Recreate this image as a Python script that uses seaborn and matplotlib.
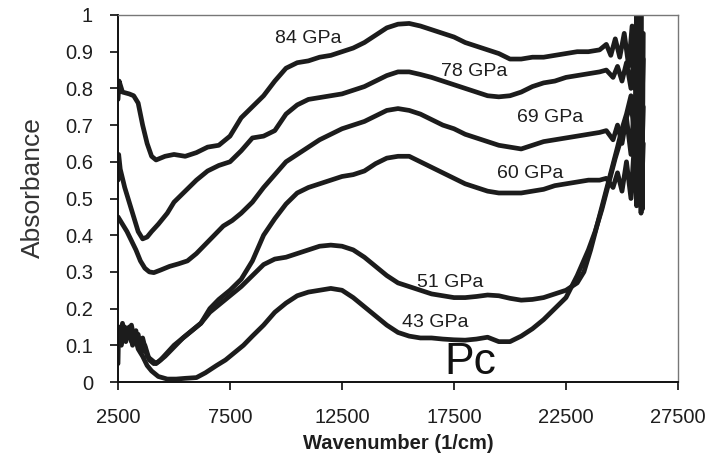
import matplotlib
matplotlib.use("Agg")
import matplotlib.pyplot as plt
import seaborn as sns
import pandas as pd

# ---------------- data ----------------
x84 = [2500, 2550, 2700, 3000, 3200, 3400, 3600, 3800, 4000, 4200, 4600, 5000, 5500, 6000, 6500,
       7000, 7500, 8000, 8500, 9000, 9500, 10000, 10500, 11000, 11500, 12000, 12500, 13000, 13500,
       14000, 14500, 15000, 15500, 16000, 16500, 17000, 17500, 18000, 18500, 19000, 19500, 20000,
       20500, 21000, 21500, 22000, 22500, 23000, 23500, 24000, 24300, 24500, 24700, 24900, 25100,
       25300, 25450, 25550, 25650, 25700, 25750, 25800, 25850, 25900, 25950]
y84 = [0.77, 0.82, 0.79, 0.785, 0.78, 0.76, 0.70, 0.65, 0.615, 0.605, 0.615, 0.62, 0.615, 0.625, 0.64,
       0.645, 0.67, 0.72, 0.75, 0.78, 0.82, 0.855, 0.87, 0.875, 0.885, 0.89, 0.90, 0.91, 0.925,
       0.945, 0.965, 0.975, 0.977, 0.97, 0.96, 0.95, 0.94, 0.925, 0.915, 0.905, 0.895, 0.88,
       0.88, 0.885, 0.885, 0.89, 0.895, 0.90, 0.90, 0.905, 0.92, 0.89, 0.935, 0.885, 0.95,
       0.86, 0.97, 0.80, 1.0, 0.70, 1.0, 0.55, 1.0, 0.47, 0.95]

x78 = [2500, 2530, 2600, 2800, 3000, 3200, 3400, 3600, 3800, 4000, 4300, 4700, 5000, 5500, 6000,
       6500, 7000, 7500, 8000, 8500, 9000, 9500, 10000, 10500, 11000, 11500, 12000, 12500, 13000,
       13500, 14000, 14500, 15000, 15500, 16000, 16500, 17000, 17500, 18000, 18500, 19000, 19500,
       20000, 20500, 21000, 21500, 22000, 22500, 23000, 23500, 24000, 24300, 24600, 24800, 25000,
       25200, 25400, 25550, 25650, 25750, 25850, 25950]
y78 = [0.55, 0.62, 0.58, 0.53, 0.49, 0.45, 0.41, 0.39, 0.395, 0.41, 0.43, 0.46, 0.49, 0.52, 0.55,
       0.575, 0.59, 0.60, 0.63, 0.665, 0.67, 0.685, 0.73, 0.755, 0.77, 0.775, 0.78, 0.785, 0.795,
       0.805, 0.82, 0.835, 0.845, 0.845, 0.838, 0.83, 0.82, 0.81, 0.80, 0.79, 0.78, 0.777,
       0.78, 0.79, 0.805, 0.815, 0.82, 0.83, 0.835, 0.84, 0.845, 0.85, 0.83, 0.86, 0.82,
       0.87, 0.80, 0.90, 0.75, 0.92, 0.65, 0.88]

x69 = [2500, 2700, 2900, 3100, 3300, 3500, 3700, 3900, 4100, 4400, 4800, 5200, 5600, 6000, 6400,
       6800, 7200, 7600, 8000, 8500, 9000, 9500, 10000, 10500, 11000, 11500, 12000, 12500, 13000,
       13500, 14000, 14500, 15000, 15500, 16000, 16500, 17000, 17500, 18000, 18500, 19000, 19500,
       20000, 20500, 21000, 21500, 22000, 22500, 23000, 23500, 24000, 24300, 24600, 24800, 25000,
       25200, 25400, 25550, 25650, 25750, 25850, 25950]
y69 = [0.45, 0.43, 0.41, 0.385, 0.36, 0.33, 0.31, 0.30, 0.298, 0.305, 0.315, 0.322, 0.33, 0.35, 0.375,
       0.40, 0.425, 0.44, 0.46, 0.49, 0.53, 0.565, 0.60, 0.62, 0.64, 0.66, 0.675, 0.69, 0.70,
       0.71, 0.725, 0.74, 0.745, 0.74, 0.73, 0.715, 0.70, 0.69, 0.675, 0.665, 0.655, 0.645,
       0.64, 0.635, 0.645, 0.655, 0.66, 0.665, 0.67, 0.675, 0.68, 0.685, 0.66, 0.70, 0.65,
       0.72, 0.62, 0.76, 0.58, 0.80, 0.52, 0.75]

x60 = [2500, 2530, 2600, 2700, 2850, 3000, 3150, 3300, 3450, 3600, 3800, 4000, 4200, 4400, 4700,
       5000, 5400, 5800, 6200, 6600, 7000, 7500, 8000, 8500, 9000, 9500, 10000, 10500, 11000,
       11500, 12000, 12500, 13000, 13500, 14000, 14500, 15000, 15500, 16000, 16500, 17000, 17500,
       18000, 18500, 19000, 19500, 20000, 20500, 21000, 21500, 22000, 22500, 23000, 23500, 24000,
       24300, 24600, 24800, 25000, 25200, 25400, 25550, 25650, 25750, 25850, 25950]
y60 = [0.05, 0.15, 0.12, 0.16, 0.11, 0.15, 0.10, 0.14, 0.09, 0.12, 0.07, 0.06, 0.05, 0.06, 0.08,
       0.10, 0.12, 0.14, 0.16, 0.20, 0.225, 0.25, 0.28, 0.33, 0.40, 0.445, 0.485, 0.515, 0.53,
       0.54, 0.55, 0.56, 0.565, 0.575, 0.595, 0.61, 0.615, 0.615, 0.60, 0.585, 0.57, 0.555,
       0.54, 0.53, 0.52, 0.515, 0.515, 0.515, 0.52, 0.525, 0.535, 0.54, 0.545, 0.55, 0.55,
       0.555, 0.53, 0.57, 0.52, 0.60, 0.50, 0.65, 0.48, 0.70, 0.46, 0.65]

x51 = [2500, 2550, 2650, 2800, 2950, 3100, 3250, 3400, 3550, 3700, 3900, 4100, 4300, 4600, 5000,
       5400, 5800, 6200, 6600, 7000, 7500, 8000, 8500, 9000, 9500, 10000, 10500, 11000, 11500,
       12000, 12500, 13000, 13500, 14000, 14500, 15000, 15500, 16000, 16500, 17000, 17500, 18000,
       18500, 19000, 19500, 20000, 20500, 21000, 21500, 22000, 22500, 23000, 23300, 23600, 23900,
       24200, 24500, 24800, 25000, 25200, 25400, 25550, 25650, 25750, 25850]
y51 = [0.10, 0.14, 0.10, 0.15, 0.12, 0.155, 0.11, 0.13, 0.08, 0.10, 0.06, 0.05, 0.055, 0.07, 0.095,
       0.12, 0.14, 0.16, 0.19, 0.21, 0.235, 0.26, 0.29, 0.32, 0.335, 0.34, 0.35, 0.36, 0.37,
       0.373, 0.37, 0.36, 0.34, 0.315, 0.29, 0.27, 0.26, 0.25, 0.24, 0.235, 0.23, 0.23,
       0.233, 0.237, 0.235, 0.228, 0.223, 0.225, 0.23, 0.24, 0.25, 0.27, 0.30, 0.36, 0.43,
       0.50, 0.57, 0.64, 0.69, 0.73, 0.78, 0.70, 0.85, 0.65, 0.80]

x43 = [2500, 2550, 2650, 2800, 2950, 3100, 3250, 3400, 3600, 3800, 4000, 4300, 4700, 5100, 5500,
       6000, 6400, 6900, 7300, 7700, 8100, 8500, 9000, 9500, 10000, 10500, 11000, 11500, 12000,
       12500, 13000, 13500, 14000, 14500, 15000, 15500, 16000, 16500, 17000, 17500, 18000, 18500,
       19000, 19500, 20000, 20500, 21000, 21500, 22000, 22500, 23000, 23500, 23800, 24100, 24400,
       24700, 25000, 25200, 25400, 25550, 25650, 25750, 25850]
y43 = [0.14, 0.10, 0.145, 0.12, 0.14, 0.11, 0.125, 0.09, 0.07, 0.045, 0.03, 0.015, 0.008, 0.008, 0.01,
       0.012, 0.025, 0.045, 0.06, 0.08, 0.10, 0.125, 0.155, 0.19, 0.215, 0.235, 0.245, 0.25, 0.255,
       0.25, 0.23, 0.205, 0.18, 0.155, 0.135, 0.125, 0.12, 0.12, 0.117, 0.115, 0.114, 0.117,
       0.122, 0.11, 0.11, 0.125, 0.145, 0.17, 0.20, 0.23, 0.29, 0.36, 0.41, 0.47, 0.54,
       0.61, 0.67, 0.72, 0.76, 0.68, 0.82, 0.62, 0.78]

series = [("84 GPa", x84, y84), ("78 GPa", x78, y78), ("69 GPa", x69, y69),
          ("60 GPa", x60, y60), ("51 GPa", x51, y51), ("43 GPa", x43, y43)]

label_text = ["84 GPa", "78 GPa", "69 GPa", "60 GPa", "51 GPa", "43 GPa"]
label_x = [10980, 18390, 21790, 20890, 17320, 16650]
label_y = [0.937, 0.845, 0.72, 0.567, 0.272, 0.163]

x_ticks = [2500, 7500, 12500, 17500, 22500, 27500]
y_ticks = [0, 0.1, 0.2, 0.3, 0.4, 0.5, 0.6, 0.7, 0.8, 0.9, 1]
y_tick_labels = ["0", "0.1", "0.2", "0.3", "0.4", "0.5", "0.6", "0.7", "0.8", "0.9", "1"]

# ---------------- plot ----------------
sns.set_style("ticks")
plt.rcParams["font.family"] = ["Liberation Sans", "DejaVu Sans"]

fig = plt.figure(figsize=(7.15, 4.54), dpi=100)
ax = fig.add_axes([118 / 715, 1 - 382 / 454, 560 / 715, 367 / 454])

line_color = "#1c1c1c"
for name, xs, ys in series:
    df = pd.DataFrame({"x": xs, "y": ys})
    sns.lineplot(data=df, x="x", y="y", ax=ax, sort=False, estimator=None,
                 color=line_color, lw=3.4, solid_joinstyle="round")

for t, lx, ly in zip(label_text, label_x, label_y):
    ax.text(lx, ly, t, fontsize=14, color="#1e1e1e", ha="center", va="center")

ax.text(18210, 0.054, "Pc", fontsize=32, color="#111111", ha="center", va="center")

ax.set_xlim(2500, 27500)
ax.set_ylim(0, 1)
ax.set_xticks(x_ticks)
ax.set_xticklabels([str(v) for v in x_ticks])
ax.set_yticks(y_ticks)
ax.set_yticklabels(y_tick_labels)
ax.tick_params(axis="both", direction="out", length=6, width=1.3, labelsize=14.5,
               colors="#1e1e1e")
ax.tick_params(axis="x", pad=13)
ax.tick_params(axis="y", pad=12)

ax.set_xlabel("Wavenumber (1/cm)", fontsize=14.5, fontweight="bold", color="#1e1e1e", labelpad=5)
ax.set_ylabel("Absorbance", fontsize=19, color="#333333")
ax.yaxis.set_label_coords((45 - 118) / 560, (382 - 188) / 367)

for s in ["left", "bottom"]:
    ax.spines[s].set_color("#111111")
    ax.spines[s].set_linewidth(1.4)
for s in ["top", "right"]:
    ax.spines[s].set_color("#777777")
    ax.spines[s].set_linewidth(1.0)

fig.savefig("out.png", dpi=100)
